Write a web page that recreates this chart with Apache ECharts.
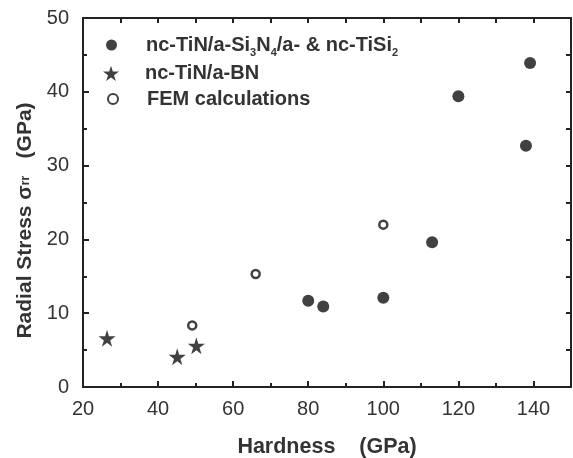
<!DOCTYPE html>
<html><head><meta charset="utf-8">
<script src="https://cdn.jsdelivr.net/npm/echarts@6/dist/echarts.min.js"></script>
<style>html,body{margin:0;padding:0;background:#fff}#c{width:573px;height:458px}</style>
</head><body><div id="c"></div>
<script>
const seriesNames = ['nc-TiN/a-Si{sub|3}N{sub|4}/a- & nc-TiSi{sub|2}', 'nc-TiN/a-BN', 'FEM calculations'];
const ncTiSiN = [[80, 11.7], [84, 10.9], [100, 12.1], [113, 19.6], [120, 39.4], [138, 32.7], [139.1, 43.9]];
const ncTiBN = [[26.4, 6.6], [45.1, 4.1], [50.2, 5.6]];
const fem = [[49.1, 8.35], [66, 15.3], [100, 22.0]];
const xTicks = [20, 40, 60, 80, 100, 120, 140];
const yTicks = [0, 10, 20, 30, 40, 50];

const starPath = 'path://M50,0 L61,35 L98,35 L68,57 L79,91 L50,70 L21,91 L32,57 L2,35 L39,35 Z';
const dark = '#222';
const txt = '#333';
const font = 'Liberation Sans';
const chart = echarts.init(document.getElementById('c'));
const axisLine = {show: true, onZero: false, lineStyle: {color: dark, width: 2}};
const legendText = (padLeft) => ({
  fontFamily: font, fontSize: 20, fontWeight: 'bold', color: txt, lineHeight: 24, padding: [0, 0, 0, padLeft],
  rich: {sub: {fontFamily: font, fontSize: 11, fontWeight: 'bold', color: txt, lineHeight: 11, padding: [16, 0, 0, 0]}}
});
chart.setOption({
  animation: false,
  backgroundColor: '#fff',
  grid: {left: 83, right: 2, top: 18, bottom: 71, outerBoundsMode: 'none'},
  legend: [
    {data: [seriesNames[0]], left: 106, top: 31.5, padding: 0, itemWidth: 11, itemHeight: 11, textStyle: legendText(24)},
    {data: [seriesNames[1]], left: 103, top: 61.3, padding: 0, itemWidth: 16, itemHeight: 16, textStyle: legendText(21)},
    {data: [seriesNames[2]], left: 107, top: 87, padding: 0, itemWidth: 10, itemHeight: 10, textStyle: legendText(24)}
  ],
  xAxis: [{
    type: 'value', min: 20, max: 150, interval: 20,
    name: 'Hardness    (GPa)', nameLocation: 'middle', nameGap: 49,
    nameTextStyle: {fontFamily: font, fontSize: 21.5, fontWeight: 'bold', color: txt},
    axisLine: axisLine,
    axisTick: {show: true, inside: true, length: 6, lineStyle: {color: dark, width: 2}},
    minorTick: {show: true, splitNumber: 2, length: 4, lineStyle: {color: dark, width: 2}},
    axisLabel: {fontFamily: font, fontSize: 20, color: txt, margin: 12,
      formatter: v => xTicks.includes(v) ? String(v) : ''},
    splitLine: {show: false}
  }, {
    type: 'value', position: 'top', min: 20, max: 150, interval: 10,
    axisLine: axisLine,
    axisTick: {show: true, inside: true, length: 5, lineStyle: {color: dark, width: 2}},
    axisLabel: {show: false}, splitLine: {show: false}
  }],
  yAxis: [{
    type: 'value', min: 0, max: 50, interval: 10,
    name: 'Radial Stress σ{sub|rr}   (GPa)', nameLocation: 'middle', nameGap: 46, nameRotate: 90,
    nameTextStyle: {fontFamily: font, fontSize: 21, fontWeight: 'bold', color: txt, padding: [0, 36, 0, 0],
      rich: {sub: {fontFamily: font, fontSize: 12, fontWeight: 'bold', color: txt}}},
    axisLine: axisLine,
    axisTick: {show: true, inside: true, length: 6, lineStyle: {color: dark, width: 2}},
    minorTick: {show: true, splitNumber: 2, length: 4, lineStyle: {color: dark, width: 2}},
    axisLabel: {fontFamily: font, fontSize: 20, color: txt, margin: 14,
      formatter: v => yTicks.includes(v) ? String(v) : ''},
    splitLine: {show: false}
  }, {
    type: 'value', position: 'right', min: 0, max: 50, interval: 5,
    axisLine: axisLine,
    axisTick: {show: true, inside: true, length: 5, lineStyle: {color: dark, width: 2}},
    axisLabel: {show: false}, splitLine: {show: false}
  }],
  series: [
    {name: seriesNames[0], type: 'scatter', data: ncTiSiN, symbol: 'circle', symbolSize: 12,
      itemStyle: {color: '#111'}},
    {name: seriesNames[1], type: 'scatter', data: ncTiBN, symbol: starPath, symbolSize: 17,
      itemStyle: {color: '#111'}},
    {name: seriesNames[2], type: 'scatter', data: fem, symbol: 'circle', symbolSize: 8,
      itemStyle: {color: '#fff', borderColor: '#111', borderWidth: 2.5}}
  ]
});
</script></body></html>
